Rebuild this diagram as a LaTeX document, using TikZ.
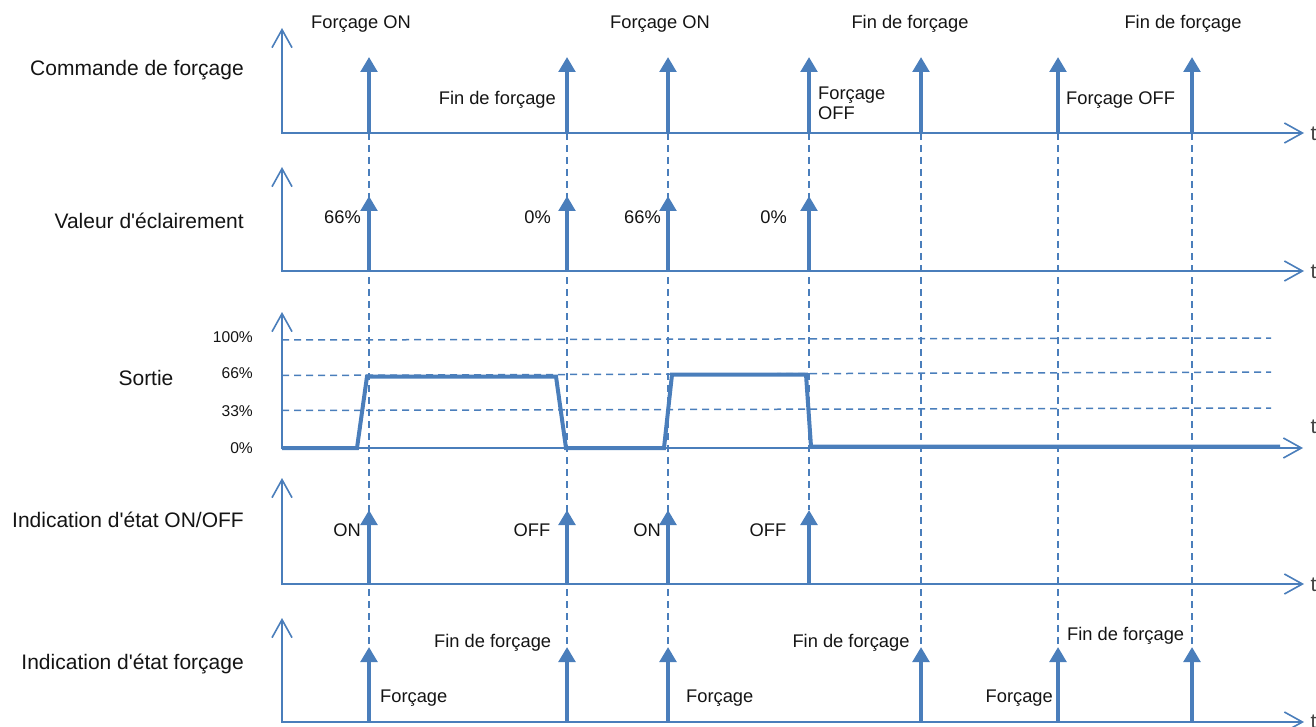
\documentclass[tikz,border=0pt]{standalone}
\usepackage{fontspec}
\setmainfont{Liberation Sans}
\usetikzlibrary{arrows.meta}
\definecolor{sigblue}{RGB}{74,126,187}
\definecolor{txt}{RGB}{20,20,20}
\begin{document}
\begin{tikzpicture}[x=1pt,y=-1pt,
  axis/.style={draw=sigblue,line width=1.8pt,
    {Straight Barb[length=18pt,width=20pt,line width=1.6pt]}-{Straight Barb[length=18pt,width=20pt,line width=1.6pt]}},
  pulse/.style={draw=sigblue,line width=4pt,-{Triangle[length=15pt,width=16.5pt]}},
  guide/.style={draw=sigblue,line width=1.5pt,dash pattern=on 7pt off 5pt},
  sig/.style={draw=sigblue,line width=4pt},
  lbl/.style={text=txt,font=\fontsize{18.3}{20}\selectfont,inner sep=0pt},
  big/.style={text=txt,font=\fontsize{21}{24}\selectfont,inner sep=0pt},
  small/.style={text=txt,font=\fontsize{15.6}{18}\selectfont,inner sep=0pt},
  tlbl/.style={text=txt!80,font=\fontsize{21}{24}\selectfont,inner sep=0pt,anchor=west}]
\useasboundingbox (0,0) rectangle (1316,727);

% ---------- axes ----------
\foreach \n/\b/\t/\e in {1/133/28/1304, 2/271/167/1304, 3/448/312/1303, 4/584/478/1304, 5/722/618/1304}{
  \coordinate (o\n) at (282,\b);
  \coordinate (y\n) at (282,\t);
  \coordinate (x\n) at (\e,\b);
  \draw[axis] (y\n) -- (o\n) -- (x\n);
}
\node[tlbl] (t1) at (1310.5,134) {t};
\node[tlbl] (t2) at (1310.5,272) {t};
\node[tlbl] (t3) at (1310.5,427) {t};
\node[tlbl] (t4) at (1310.5,585) {t};
\node[tlbl] (t5) at (1310.5,722) {t};

% ---------- level guides (Sortie) ----------
\coordinate (l100a) at (282,340);   \coordinate (l100b) at (1271,338);
\coordinate (l66a) at (282,375.5);  \coordinate (l66b) at (1271,372);
\coordinate (l33a) at (282,410.5);  \coordinate (l33b) at (1271,408);
\draw[guide] (l100a) -- (l100b);
\draw[guide] (l66a) -- (l66b);
\draw[guide] (l33a) -- (l33b);

% ---------- vertical dashed guides ----------
\foreach \x/\e in {369/648, 567/648, 668/648, 809/510, 921/648, 1058/648, 1192/648}{
  \coordinate (gs\x) at (\x,133);
  \coordinate (ge\x) at (\x,\e);
  \draw[guide] (gs\x) -- (ge\x);
}

% ---------- pulses ----------
\foreach \x in {369,567,668,809,921,1058,1192}{
  \coordinate (pa\x) at (\x,133); \coordinate (pb\x) at (\x,57);
  \draw[pulse] (pa\x) -- (pb\x);
}
\foreach \x in {369,567,668,809}{
  \coordinate (qa\x) at (\x,271); \coordinate (qb\x) at (\x,196);
  \draw[pulse] (qa\x) -- (qb\x);
  \coordinate (ra\x) at (\x,584); \coordinate (rb\x) at (\x,510);
  \draw[pulse] (ra\x) -- (rb\x);
}
\foreach \x in {369,567,668,921,1058,1192}{
  \coordinate (sa\x) at (\x,722); \coordinate (sb\x) at (\x,647);
  \draw[pulse] (sa\x) -- (sb\x);
}

% ---------- output signal ----------
\draw[sig] (282,448) -- (357,448) -- (367,376.5) -- (556,376.5) -- (566,448)
  -- (664,448) -- (672,374.5) -- (806,374.5) -- (811,446.5) -- (1280,446.5);

% ---------- left labels ----------
\node[big,anchor=east] (c1) at (244,70) {Commande de forçage};
\node[big,anchor=east] (c2) at (244,221) {Valeur d\textquotesingle éclairement};
\node[big] (c3) at (146,378) {Sortie};
\node[big,anchor=east] (c4) at (244,520) {Indication d\textquotesingle état ON/OFF};
\node[big,anchor=east] (c5) at (244,664) {Indication d\textquotesingle état forçage};

\node[small,anchor=east] (v100) at (253,337) {100\%};
\node[small,anchor=east] (v66) at (253,373) {66\%};
\node[small,anchor=east] (v33) at (253,411) {33\%};
\node[small,anchor=east] (v0) at (253,448) {0\%};

% ---------- panel 1 labels ----------
\node[lbl] (a1) at (361,24) {Forçage ON};
\node[lbl] (a2) at (660,24) {Forçage ON};
\node[lbl] (a3) at (910,24) {Fin de forçage};
\node[lbl] (a4) at (1183,24) {Fin de forçage};
\node[lbl,anchor=east] (a5) at (556,100) {Fin de forçage};
\node[lbl,anchor=west,align=left] (a6) at (818,103) {Forçage\\OFF};
\node[lbl,anchor=west] (a7) at (1066,100) {Forçage OFF};

% ---------- panel 2 labels ----------
\node[lbl,anchor=east] (b1) at (361,217) {66\%};
\node[lbl,anchor=east] (b2) at (551,217) {0\%};
\node[lbl,anchor=east] (b3) at (661,217) {66\%};
\node[lbl,anchor=east] (b4) at (787,217) {0\%};

% ---------- panel 4 labels ----------
\node[lbl] (d1) at (347,530) {ON};
\node[lbl] (d2) at (532,530) {OFF};
\node[lbl] (d3) at (647,530) {ON};
\node[lbl] (d4) at (768,530) {OFF};

% ---------- panel 5 labels ----------
\node[lbl,anchor=west] (e1) at (380,698) {Forçage};
\node[lbl,anchor=west] (e2) at (434,643) {Fin de forçage};
\node[lbl,anchor=west] (e3) at (686,698) {Forçage};
\node[lbl] (e4) at (851,643) {Fin de forçage};
\node[lbl,anchor=east] (e5) at (1053,698) {Forçage};
\node[lbl,anchor=west] (e6) at (1067,636) {Fin de forçage};
\end{tikzpicture}
\end{document}
